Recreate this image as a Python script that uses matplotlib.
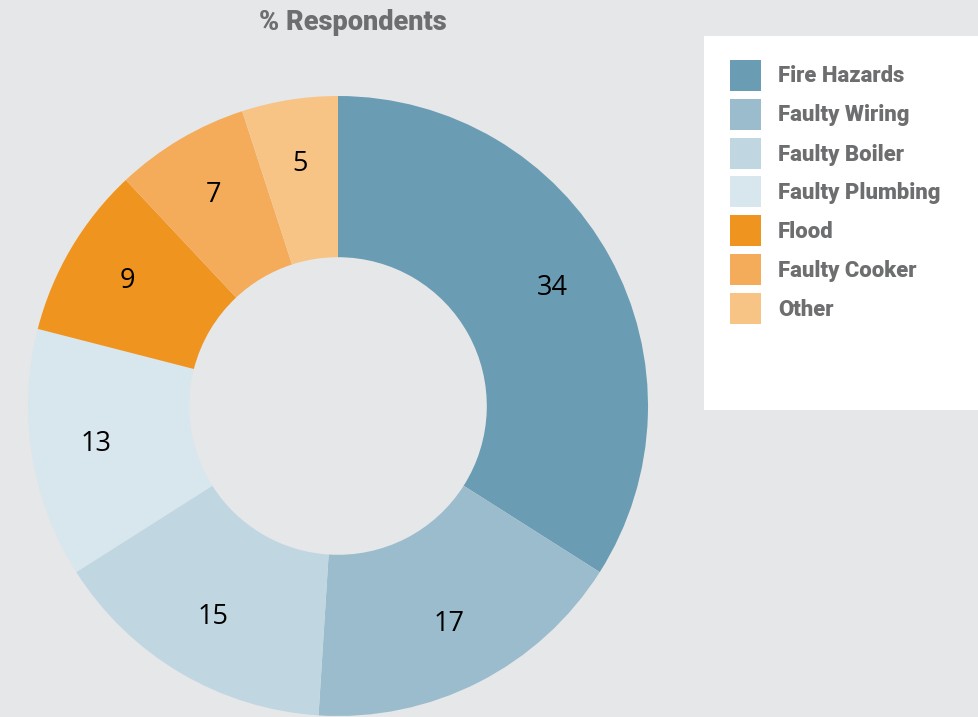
import matplotlib.pyplot as plt
from matplotlib.patches import Rectangle

categories = ["Fire Hazards", "Faulty Wiring", "Faulty Boiler", "Faulty Plumbing",
              "Flood", "Faulty Cooker", "Other"]
values = [34, 17, 15, 13, 9, 7, 5]
colors = ["#6a9cb3", "#9bbccd", "#c0d7e2", "#d8e6ed", "#f09420", "#f4ac5a", "#f8c486"]

bg = "#e6e7e8"
grey = "#6d6e70"
font = ["Roboto", "DejaVu Sans"]

W, H = 979, 717
fig = plt.figure(figsize=(W / 100, H / 100), dpi=100, facecolor=bg)
ax = fig.add_axes([0, 0, 1, 1])

wedges, texts = ax.pie(values, colors=colors, startangle=90, counterclock=False,
                       center=(338, H - 406), radius=310,
                       labels=[str(v) for v in values], labeldistance=0.79,
                       wedgeprops=dict(width=310 * 0.52, linewidth=0),
                       textprops=dict(fontsize=19.5, color="black", ha="center", va="center",
                                      family=["Open Sans", "DejaVu Sans"]))
ax.set_xlim(0, W)
ax.set_ylim(0, H)
ax.set_aspect("equal")
ax.axis("off")

ax.text(353, H - 23, "% Respondents", ha="center", va="center", fontsize=19.5,
        fontweight="heavy", color=grey, family=font)

# legend box
ax.add_patch(Rectangle((704, H - 410), 300, 374, facecolor="white", edgecolor="none"))
for i, (c, lab) in enumerate(zip(colors, categories)):
    y = H - (75 + 39 * i)
    ax.add_patch(Rectangle((730, y - 15.5), 31, 31, facecolor=c, edgecolor="none"))
    ax.text(778, y - 1.5, lab, ha="left", va="center", fontsize=15.8, fontweight="heavy",
            color=grey, family=font)

fig.savefig("out.png", dpi=100, facecolor=bg)
